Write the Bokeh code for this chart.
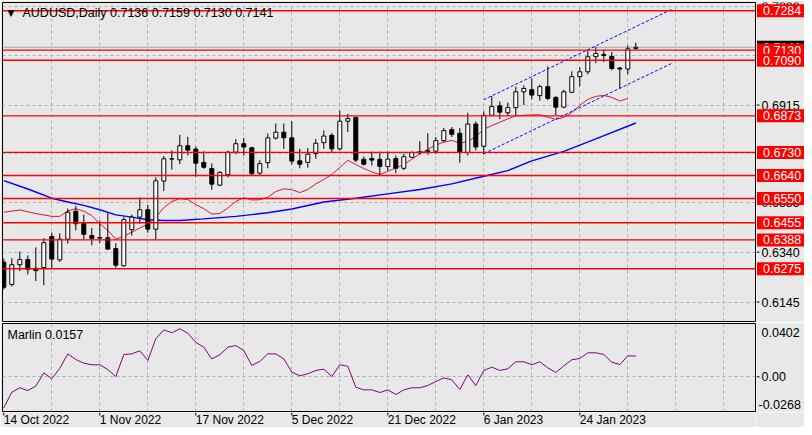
from bokeh.plotting import figure
from bokeh.models import Range1d, FixedTicker, Grid, Span, Label
from bokeh.layouts import column, row
from bokeh.core.properties import value
from bokeh.embed import file_html
from bokeh.resources import INLINE

# ---------------- data ----------------
symbol = "AUDUSD,Daily"
opens = [0.6301, 0.6214, 0.6291, 0.6311, 0.6277, 0.6280, 0.6401, 0.6310, 0.6391, 0.6500,
         0.6452, 0.6405, 0.6397, 0.6396, 0.6354, 0.6287, 0.6428, 0.6477, 0.6506, 0.6430,
         0.6618, 0.6705, 0.6701, 0.6756, 0.6743, 0.6691, 0.6667, 0.6602, 0.6643, 0.6731,
         0.6764, 0.6748, 0.6649, 0.6690, 0.6786, 0.6809, 0.6787, 0.6697, 0.6691, 0.6725,
         0.6768, 0.6797, 0.6744, 0.6852, 0.6867, 0.6703, 0.6706, 0.6703, 0.6675, 0.6706,
         0.6668, 0.6711, 0.6729, 0.6734, 0.6735, 0.6776, 0.6819, 0.6805, 0.6730, 0.6841,
         0.6754, 0.6875, 0.6912, 0.6885, 0.6905, 0.6967, 0.6975, 0.6952, 0.6987, 0.6945,
         0.6907, 0.6965, 0.7026, 0.7045, 0.7104, 0.7113, 0.7105, 0.7060, 0.7056, 0.7136]
highs = [0.6315, 0.6316, 0.6343, 0.6327, 0.6359, 0.6395, 0.6417, 0.6414, 0.6511, 0.6521,
         0.6487, 0.6435, 0.6464, 0.6495, 0.6375, 0.6477, 0.6487, 0.6553, 0.6525, 0.6633,
         0.6716, 0.6738, 0.6799, 0.6791, 0.6752, 0.6734, 0.6687, 0.6656, 0.6736, 0.6782,
         0.6786, 0.6752, 0.6699, 0.6804, 0.6843, 0.6843, 0.6852, 0.6744, 0.6747, 0.6783,
         0.6816, 0.6805, 0.6894, 0.6881, 0.6868, 0.6714, 0.6733, 0.6733, 0.6733, 0.6718,
         0.6725, 0.6734, 0.6774, 0.6805, 0.6790, 0.6826, 0.6829, 0.6825, 0.6885, 0.6851,
         0.6890, 0.6950, 0.6929, 0.6925, 0.6987, 0.6992, 0.7019, 0.6995, 0.7066, 0.6950,
         0.6975, 0.7047, 0.7062, 0.7132, 0.7142, 0.7132, 0.7122, 0.7064, 0.7148, 0.7159]
lows = [0.6194, 0.6206, 0.6266, 0.6253, 0.6227, 0.6211, 0.6276, 0.6302, 0.6373, 0.6425,
        0.6390, 0.6367, 0.6375, 0.6349, 0.6279, 0.6284, 0.6405, 0.6451, 0.6416, 0.6391,
        0.6579, 0.6663, 0.6684, 0.6718, 0.6635, 0.6666, 0.6584, 0.6598, 0.6633, 0.6723,
        0.6718, 0.6639, 0.6643, 0.6668, 0.6780, 0.6744, 0.6683, 0.6668, 0.6670, 0.6705,
        0.6744, 0.6731, 0.6738, 0.6809, 0.6692, 0.6679, 0.6679, 0.6637, 0.6659, 0.6649,
        0.6661, 0.6708, 0.6722, 0.6721, 0.6725, 0.6770, 0.6790, 0.6690, 0.6718, 0.6738,
        0.6722, 0.6873, 0.6860, 0.6872, 0.6875, 0.6915, 0.6937, 0.6932, 0.6934, 0.6876,
        0.6903, 0.6962, 0.6988, 0.7035, 0.7079, 0.7083, 0.7051, 0.6980, 0.7035, 0.7130]
closes = [0.6203, 0.6291, 0.6311, 0.6273, 0.6268, 0.6377, 0.6313, 0.6391, 0.6496, 0.6451,
          0.6410, 0.6394, 0.6395, 0.6352, 0.6289, 0.6467, 0.6477, 0.6506, 0.6430, 0.6619,
          0.6705, 0.6704, 0.6756, 0.6739, 0.6688, 0.6672, 0.6606, 0.6652, 0.6731, 0.6764,
          0.6751, 0.6647, 0.6686, 0.6787, 0.6809, 0.6787, 0.6696, 0.6684, 0.6723, 0.6766,
          0.6794, 0.6744, 0.6852, 0.6862, 0.6700, 0.6684, 0.6700, 0.6675, 0.6704, 0.6668,
          0.6713, 0.6729, 0.6733, 0.6737, 0.6776, 0.6815, 0.6801, 0.6730, 0.6841, 0.6751,
          0.6875, 0.6909, 0.6887, 0.6905, 0.6967, 0.6980, 0.6954, 0.6987, 0.6941, 0.6907,
          0.6967, 0.7026, 0.7045, 0.7104, 0.7117, 0.7109, 0.7058, 0.7056, 0.7135, 0.7141]

red_ma_x = [0, 2, 4] + list(range(6, 79))
red_ma = [0.6496, 0.6505, 0.6491, 0.6480, 0.6480, 0.6501, 0.6510, 0.6500, 0.6483, 0.6451,
          0.6425, 0.6391, 0.6403, 0.6418, 0.6435, 0.6449, 0.6477, 0.6514, 0.6538, 0.6549,
          0.6546, 0.6526, 0.6510, 0.6489, 0.6491, 0.6513, 0.6538, 0.6553, 0.6544, 0.6545,
          0.6555, 0.6577, 0.6588, 0.6584, 0.6573, 0.6585, 0.6607, 0.6624, 0.6644, 0.6671,
          0.6699, 0.6683, 0.6667, 0.6654, 0.6644, 0.6656, 0.6669, 0.6683, 0.6703, 0.6724,
          0.6742, 0.6759, 0.6770, 0.6777, 0.6766, 0.6773, 0.6792, 0.6820, 0.6835, 0.6848,
          0.6861, 0.6873, 0.6875, 0.6877, 0.6877, 0.6868, 0.6859, 0.6867, 0.6886, 0.6914,
          0.6937, 0.6949, 0.6953, 0.6945, 0.6931, 0.6941]

blue_ma_x = [0, 3, 6, 8, 10, 12, 14, 16, 18, 20, 22, 25, 29, 33, 36, 40, 44, 48, 52, 56,
             60, 63, 66, 70, 74, 79]
blue_ma = [0.6620, 0.6587, 0.6551, 0.6536, 0.6523, 0.6506, 0.6486, 0.6477, 0.6467, 0.6464,
           0.6464, 0.6470, 0.6480, 0.6494, 0.6509, 0.6536, 0.6551, 0.6568, 0.6585, 0.6607,
           0.6637, 0.6659, 0.6697, 0.6734, 0.6783, 0.6845]

channel_x = [60, 83.55]
channel_upper = [0.6936, 0.7290]
channel_lower = [0.6725, 0.7079]

levels = [0.7284, 0.7130, 0.7090, 0.6873, 0.6730, 0.6640, 0.6550, 0.6455, 0.6388, 0.6275]
price_ticks = [0.6145, 0.6340, 0.6535, 0.6725, 0.6915, 0.7110, 0.7300]

marlin = [-0.0235, -0.0117, -0.0083, -0.0104, -0.0071, 0.0030, -0.0015, 0.0065, 0.0174, 0.0131,
          0.0103, 0.0091, 0.0091, 0.0055, 0.0002, 0.0169, 0.0174, 0.0197, 0.0124, 0.0288,
          0.0356, 0.0334, 0.0364, 0.0330, 0.0262, 0.0224, 0.0136, 0.0167, 0.0224, 0.0237,
          0.0199, 0.0086, 0.0116, 0.0174, 0.0174, 0.0136, 0.0035, 0.0008, 0.0023, 0.0048,
          0.0058, 0.0002, 0.0091, 0.0080, -0.0079, -0.0099, -0.0099, -0.0119, -0.0099, -0.0134,
          -0.0099, -0.0083, -0.0083, -0.0066, -0.0036, -0.0008, -0.0023, -0.0096, 0.0015, -0.0066,
          0.0048, 0.0073, 0.0048, 0.0061, 0.0114, 0.0114, 0.0091, 0.0114, 0.0068, 0.0033,
          0.0083, 0.0129, 0.0139, 0.0182, 0.0182, 0.0169, 0.0111, 0.0093, 0.0159, 0.0157]
marlin_max = 0.0402
marlin_min = -0.0268
marlin_ticks = [0.0]

date_ticks = [0, 12, 24, 36, 48, 60, 72]
date_labels = ["14 Oct 2022", "1 Nov 2022", "17 Nov 2022", "5 Dec 2022",
               "21 Dec 2022", "6 Jan 2023", "24 Jan 2023"]
grid_bars = list(range(6, 94, 6))

# ---------------- layout constants ----------------
FONT = "Liberation Sans"
FS = "12.5px"
BG = "#e8e8e8"
GRID = "#b0b0b0"
TOTAL_W = 804
LEFT_W = 756          # chart part: 2px left border, 753px frame, 1px right border
AX_W = TOTAL_W - LEFT_W
MAIN_H = 322
MARL_H = 90
DATE_H = 15
BAR_PX = 8.0
X_START = -1.3 / BAR_PX
X_END = X_START + (LEFT_W - 3) / BAR_PX
Y_BOT, Y_TOP = 0.6069, 0.7316
M_BOT, M_TOP = -0.0263, 0.0404

xr = Range1d(X_START, X_END)
yr_main = Range1d(Y_BOT, Y_TOP)
yr_marl = Range1d(M_BOT, M_TOP)


def base(width, height, x_range, y_range, outline=True, **borders):
    f = figure(width=width, height=height, x_range=x_range, y_range=y_range,
               x_axis_location=None, y_axis_location=None, toolbar_location=None,
               output_backend="svg", **borders)
    f.background_fill_color = BG
    f.border_fill_color = BG
    f.outline_line_color = "black" if outline else None
    f.outline_line_width = 1
    f.grid.grid_line_color = None
    return f


def vgrid(f):
    f.add_layout(Grid(dimension=0, ticker=FixedTicker(ticks=grid_bars),
                      grid_line_color=GRID, grid_line_dash="3 3", grid_line_width=1))


def hgrid(f, ticks):
    f.add_layout(Grid(dimension=1, ticker=FixedTicker(ticks=ticks),
                      grid_line_color=GRID, grid_line_dash="3 3", grid_line_width=1))


def scale_text(f, x, y, text, y_offset=0):
    f.add_layout(Label(x=x, y=y, y_offset=y_offset, text=text, text_font=FONT,
                       text_font_size=FS, text_color="black",
                       text_baseline="middle", text_align="left"))


def tag(f, y, text, fill):
    f.add_layout(Label(x=0.5, y=y, text=text, text_font=FONT, text_font_size=FS,
                       text_color="white", text_baseline="middle", text_align="left",
                       background_fill_color=fill,
                       padding=dict(left=6, right=3, top=2, bottom=2)))


# ---------------- main price panel ----------------
p = base(LEFT_W, MAIN_H, xr, yr_main, min_border_left=2, min_border_right=1,
         min_border_top=2, min_border_bottom=1)
vgrid(p)
hgrid(p, price_ticks)
idx = list(range(len(opens)))

p.add_layout(Span(location=closes[-1], dimension="width", line_color="#a8a8a8",
                  line_width=1, level="underlay"))

p.line(blue_ma_x, blue_ma, line_color="#0000ff", line_width=1.4)
p.line(red_ma_x, red_ma, line_color="#dc143c", line_width=1)
p.line(channel_x, channel_upper, line_color="#0000ff", line_width=1, line_dash="3 2")
p.line(channel_x, channel_lower, line_color="#0000ff", line_width=1, line_dash="3 2")

p.segment(x0=idx, y0=lows, x1=idx, y1=highs, line_color="black", line_width=1)
tops = [max(o, c) for o, c in zip(opens, closes)]
bots = [min(o, c) for o, c in zip(opens, closes)]
fills = ["white" if c >= o else "black" for o, c in zip(opens, closes)]
p.vbar(x=idx, width=0.5, top=tops, bottom=bots, fill_color=fills, line_color="black",
       line_width=1)

for lv in levels:
    p.add_layout(Span(location=lv, dimension="width", line_color="#ff0000", line_width=1.4))

p.add_layout(Label(x=X_START, y=Y_TOP, x_offset=5, y_offset=-10, text="\u25bc",
                   text_font="DejaVu Sans", text_font_size="9px", text_color="black",
                   text_baseline="middle", text_align="left"))
header = f"{symbol}  {opens[-1]:.4f} {highs[-1]:.4f} {lows[-1]:.4f} {closes[-1]:.4f}"
p.add_layout(Label(x=X_START, y=Y_TOP, x_offset=20, y_offset=-10, text=header,
                   text_font=FONT, text_font_size=FS, text_color="black",
                   text_baseline="middle", text_align="left"))

# ---------------- price scale strip (x in pixels) ----------------
pa = base(AX_W, MAIN_H, Range1d(0, AX_W), yr_main, outline=False,
          min_border_left=0, min_border_right=0, min_border_top=2, min_border_bottom=1)
pa.segment(x0=[0] * len(price_ticks), x1=[3] * len(price_ticks), y0=price_ticks,
           y1=price_ticks, line_color="black", line_width=1)
for t in price_ticks:
    scale_text(pa, 5, t, f"{t:.4f}")
tag(pa, closes[-1], f"{closes[-1]:.4f}", "black")
for lv in levels:
    tag(pa, lv, f"{lv:.4f}", "#ff0000")

# ---------------- Marlin panel ----------------
m = base(LEFT_W, MARL_H, xr, yr_marl, min_border_left=2, min_border_right=1,
         min_border_top=1, min_border_bottom=1)
vgrid(m)
hgrid(m, marlin_ticks)
m.line(idx, marlin, line_color="#800080", line_width=1)
m.add_layout(Label(x=X_START, y=M_TOP, x_offset=5, y_offset=-11,
                   text=f"Marlin {marlin[-1]:.4f}",
                   text_font=FONT, text_font_size=FS, text_color="black",
                   text_baseline="middle", text_align="left"))

ma = base(AX_W, MARL_H, Range1d(0, AX_W), yr_marl, outline=False,
          min_border_left=0, min_border_right=0, min_border_top=1, min_border_bottom=1)
ma.segment(x0=[0] * len(marlin_ticks), x1=[3] * len(marlin_ticks), y0=marlin_ticks,
           y1=marlin_ticks, line_color="black", line_width=1)
for t in marlin_ticks:
    scale_text(ma, 5, t, f"{t:.2f}")
scale_text(ma, 5, marlin_max, f"{marlin_max:.4f}", y_offset=-9)
scale_text(ma, 2, marlin_min, f"{marlin_min:.4f}", y_offset=8)

# ---------------- date strip (y in pixels) ----------------
d = base(LEFT_W, DATE_H, xr, Range1d(0, DATE_H), outline=False,
         min_border_left=2, min_border_right=1, min_border_top=0, min_border_bottom=0)
d.segment(x0=date_ticks, x1=date_ticks, y0=[DATE_H] * len(date_ticks),
          y1=[DATE_H - 3] * len(date_ticks), line_color="black", line_width=1)
d.text(x=date_ticks, y=[DATE_H / 2] * len(date_ticks), text=date_labels,
       text_font=value(FONT), text_font_size=value("12px"), text_color="black",
       text_baseline="middle", text_align="left")
dpad = base(AX_W, DATE_H, Range1d(0, AX_W), Range1d(0, DATE_H), outline=False,
            min_border_left=0, min_border_right=0, min_border_top=0, min_border_bottom=0)

layout = column(row(p, pa), row(m, ma), row(d, dpad))
open("out.html", "w").write(file_html(layout, INLINE))
